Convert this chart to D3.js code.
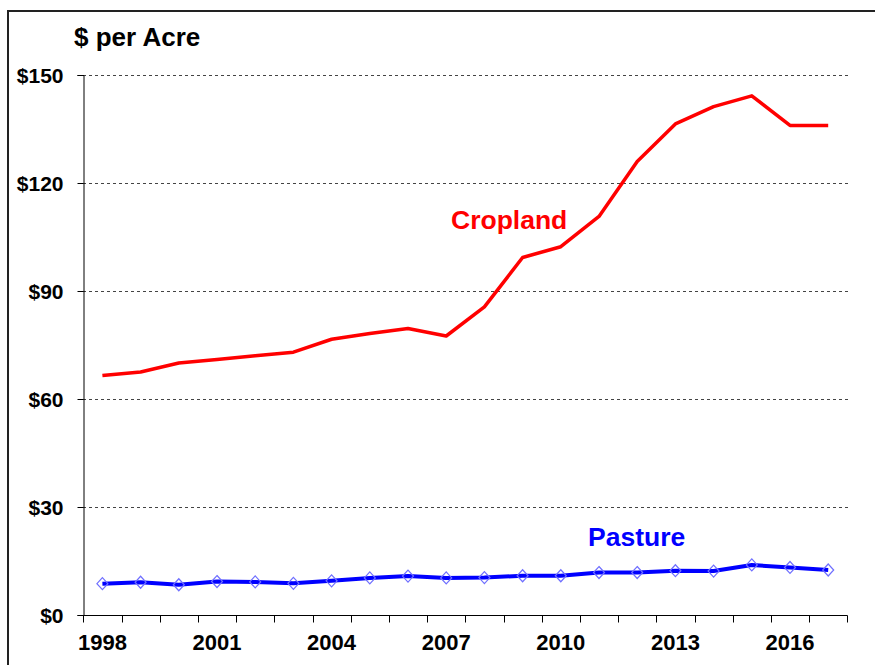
<!DOCTYPE html>
<html>
<head>
<meta charset="utf-8">
<script src="https://cdn.jsdelivr.net/npm/d3@7"></script>
<style>
  body { margin: 0; background: #fff; }
  svg { display: block; font-family: "Liberation Sans", Arial, sans-serif; }
</style>
</head>
<body>
<svg width="875" height="665"></svg>
<script>
// years on the category axis
const years = [1998, 1999, 2000, 2001, 2002, 2003, 2004, 2005, 2006, 2007,
  2008, 2009, 2010, 2011, 2012, 2013, 2014, 2015, 2016, 2017];

// cash rent, $ per acre
const cropland = [66.5, 67.5, 70, 71, 72, 73, 76.6, 78.2, 79.6, 77.5,
  85.6, 99.3, 102.3, 110.7, 126, 136.4, 141.2, 144.2, 136, 136];
const pasture = [8.7, 9.1, 8.4, 9.3, 9.2, 8.8, 9.5, 10.3, 10.8, 10.3,
  10.4, 10.9, 10.9, 11.8, 11.8, 12.3, 12.2, 13.9, 13.2, 12.5];

const yTicks = [0, 30, 60, 90, 120, 150];
const xLabels = [1998, 2001, 2004, 2007, 2010, 2013, 2016];

const svg = d3.select("svg");

// outer frame (only top and left edges show inside the window)
svg.append("rect")
  .attr("x", 8).attr("y", 11)
  .attr("width", 880).attr("height", 700)
  .attr("fill", "none")
  .attr("stroke", "#222")
  .attr("stroke-width", 2);

const x = d3.scaleBand().domain(years).range([83.3, 847.3]).padding(0);
const y = d3.scaleLinear().domain([0, 150]).range([615, 75]);
const cx = (d) => x(d) + x.bandwidth() / 2;

// dotted gridlines
svg.selectAll("line.grid")
  .data(yTicks.filter((d) => d > 0))
  .enter()
  .append("line")
  .attr("class", "grid")
  .attr("x1", 83).attr("x2", 848)
  .attr("y1", (d) => y(d) + 0.5).attr("y2", (d) => y(d) + 0.5)
  .attr("stroke", "#444")
  .attr("stroke-width", 1)
  .attr("stroke-dasharray", "3,3");

// y axis
const yAxis = svg.append("g")
  .attr("transform", "translate(83.5,0)")
  .call(d3.axisLeft(y).tickValues(yTicks).tickSize(6).tickFormat((d) => "$" + d));
yAxis.select(".domain").attr("stroke", "#000");
yAxis.selectAll(".tick line").attr("stroke", "#000");
yAxis.selectAll(".tick text")
  .attr("x", -20)
  .attr("dy", "0.36em")
  .attr("font-size", "21px")
  .attr("font-weight", "bold")
  .attr("font-family", "Liberation Sans, Arial, sans-serif")
  .attr("fill", "#000");

// x axis: ticks at category boundaries
const xg = svg.append("g").attr("transform", "translate(0,615.5)");
xg.append("line")
  .attr("x1", 83).attr("x2", 847.5)
  .attr("stroke", "#000");
const bounds = years.map((d) => x(d)).concat([x.range()[1]]);
xg.selectAll("line.tick")
  .data(bounds)
  .enter()
  .append("line")
  .attr("class", "tick")
  .attr("x1", (d) => Math.round(d) + 0.5).attr("x2", (d) => Math.round(d) + 0.5)
  .attr("y1", 0).attr("y2", 7)
  .attr("stroke", "#000");
xg.selectAll("text")
  .data(xLabels)
  .enter()
  .append("text")
  .attr("x", (d) => cx(d))
  .attr("y", 34)
  .attr("text-anchor", "middle")
  .attr("font-size", "22px")
  .attr("font-weight", "bold")
  .text((d) => d);

// lines
const line = (vals) => d3.line()
  .x((d, i) => cx(years[i]))
  .y((d) => y(d))(vals);

svg.append("path")
  .attr("d", line(cropland))
  .attr("fill", "none")
  .attr("stroke", "#ff0000")
  .attr("stroke-width", 3.5)
  .attr("stroke-linejoin", "round");

svg.append("path")
  .attr("d", line(pasture))
  .attr("fill", "none")
  .attr("stroke", "#0000ff")
  .attr("stroke-width", 4)
  .attr("stroke-linejoin", "round");

// hollow diamond markers on pasture
svg.selectAll("path.mark")
  .data(pasture)
  .enter()
  .append("path")
  .attr("class", "mark")
  .attr("transform", (d, i) => `translate(${cx(years[i])},${y(d)})`)
  .attr("d", "M0,-6L5.5,0L0,6L-5.5,0Z")
  .attr("fill", "none")
  .attr("stroke", "#6f6fff")
  .attr("stroke-width", 1.2);

// titles and series labels
svg.append("text")
  .attr("x", 74).attr("y", 46)
  .attr("font-size", "26px")
  .attr("font-weight", "bold")
  .text("$ per Acre");

svg.append("text")
  .attr("x", 451).attr("y", 229)
  .attr("font-size", "26.5px")
  .attr("font-weight", "bold")
  .attr("fill", "#ff0000")
  .text("Cropland");

svg.append("text")
  .attr("x", 588).attr("y", 546)
  .attr("font-size", "26.5px")
  .attr("font-weight", "bold")
  .attr("fill", "#0000ff")
  .text("Pasture");
</script>
</body>
</html>
